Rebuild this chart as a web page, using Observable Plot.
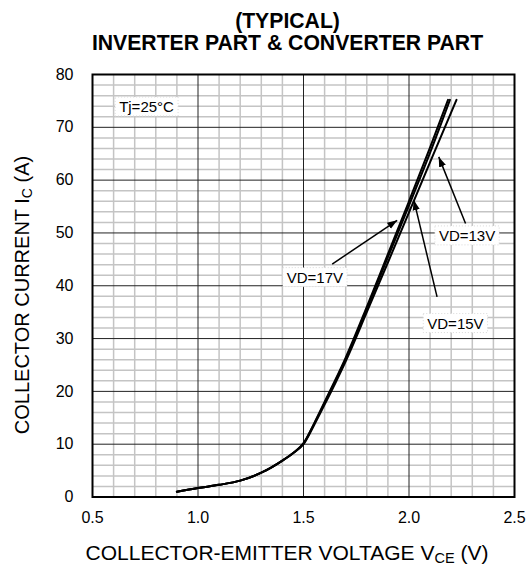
<!DOCTYPE html>
<html><head><meta charset="utf-8">
<script src="https://cdn.jsdelivr.net/npm/d3@7"></script>
<script src="https://cdn.jsdelivr.net/npm/@observablehq/plot@0.6"></script>
<style>body{margin:0;background:#fff} #chart{width:528px;height:586px}</style>
</head><body><div id="chart"></div>
<script>
const titleLines = ["(TYPICAL)", "INVERTER PART & CONVERTER PART"];
const xLabelMain = "COLLECTOR-EMITTER VOLTAGE V", xLabelSub = "CE", xLabelEnd = " (V)";
const yLabelMain = "COLLECTOR CURRENT I", yLabelSub = "C", yLabelEnd = " (A)";
const xTicks = [0.5, 1.0, 1.5, 2.0, 2.5];
const yTicks = [0, 10, 20, 30, 40, 50, 60, 70, 80];
const xMinor = [0.6,0.7,0.8,0.9,1.1,1.2,1.3,1.4,1.6,1.7,1.8,1.9,2.1,2.2,2.3,2.4];
const yMinor = [2,4,6,8,12,14,16,18,22,24,26,28,32,34,36,38,42,44,46,48,52,54,56,58,62,64,66,68,72,74,76,78];

const seriesNames = ["VD=17V", "VD=15V", "VD=13V"];
const vce17 = [0.9,1.0,1.1,1.2,1.3,1.4,1.45,1.5,1.55,1.6,1.65,1.7,1.8,1.9,2.0,2.1,2.185];
const ic17  = [1.0,1.7,2.3,3.1,4.6,6.9,8.3,10.2,13.9,18.0,22.1,26.4,36.0,46.0,56.0,66.2,75.2];
const vce15 = [0.9,1.0,1.1,1.2,1.3,1.4,1.45,1.5,1.55,1.6,1.65,1.7,1.8,1.9,2.0,2.1,2.194];
const ic15  = [1.0,1.7,2.3,3.1,4.6,6.9,8.3,10.1,13.8,17.8,21.9,26.1,35.6,45.4,55.2,65.2,75.2];
const vce13 = [0.9,1.0,1.1,1.2,1.3,1.4,1.45,1.5,1.55,1.6,1.65,1.7,1.8,1.9,2.0,2.1,2.225];
const ic13  = [1.0,1.7,2.3,3.1,4.6,6.9,8.3,10.0,13.6,17.5,21.5,25.7,35.0,44.4,53.9,63.4,75.2];

const labelText = ["Tj=25°C", "VD=17V", "VD=15V", "VD=13V"];
const labelX = [0.756, 1.554, 2.220, 2.275];
const labelY = [73.8, 41.5, 32.8, 49.4];
const arrowFromX = [1.636, 2.133, 2.268];
const arrowFromY = [44.1, 37.9, 51.8];
const arrowToX = [1.944, 2.023, 2.141];
const arrowToY = [52.4, 56.2, 64.4];

const curves = [];
[[vce17, ic17], [vce15, ic15], [vce13, ic13]].forEach(([vs, is], k) => {
  vs.forEach((v, i) => curves.push({series: seriesNames[k], v, i: is[i]}));
});
const labels = labelText.map((t, k) => ({t, x: labelX[k], y: labelY[k]}));
const arrows = arrowFromX.map((d, k) => ({x1: d, y1: arrowFromY[k], x2: arrowToX[k], y2: arrowToY[k]}));

const FONT = "'Liberation Sans', Arial, Helvetica, sans-serif";
const plot = Plot.plot({
  width: 528, height: 586,
  marginTop: 74, marginLeft: 92, marginRight: 14, marginBottom: 89.5,
  style: {fontFamily: FONT, fontSize: "16px", color: "black", background: "white"},
  x: {domain: [0.5, 2.5], ticks: xTicks, tickFormat: d => d.toFixed(1), tickSize: 0, tickPadding: 15, label: null},
  y: {domain: [0, 80], ticks: yTicks, tickSize: 0, tickPadding: 19, label: null},
  marks: [
    Plot.ruleX(xMinor, {stroke: "#c4c4c4", strokeWidth: 1.5}),
    Plot.ruleY(yMinor, {stroke: "#c4c4c4", strokeWidth: 1.5}),
    Plot.ruleX(xTicks, {stroke: "#222", strokeWidth: 1}),
    Plot.ruleY(yTicks, {stroke: "#222", strokeWidth: 1}),
    Plot.line(curves, {x: "v", y: "i", z: "series", stroke: "black", strokeWidth: 2, curve: "monotone-x"}),
    Plot.link(arrows, {x1: "x1", y1: "y1", x2: "x2", y2: "y2", stroke: "black", strokeWidth: 1.5, ariaLabel: "arrows"}),
    Plot.text(labels, {x: "x", y: "y", text: "t", fontSize: 15, fill: "black", ariaLabel: "labels"}),
    Plot.frame({stroke: "black", strokeWidth: 2})
  ]
});
document.getElementById("chart").appendChild(plot);

const svg = d3.select(plot);
// arrowhead marker
const defs = svg.insert("defs", ":first-child");
defs.append("marker").attr("id", "ah").attr("markerUnits", "userSpaceOnUse")
  .attr("viewBox", "-10 -5 11 10").attr("refX", 0).attr("refY", 0)
  .attr("markerWidth", 11).attr("markerHeight", 10).attr("orient", "auto")
  .append("path").attr("d", "M0,0L-10,-3.6L-10,3.6Z").attr("fill", "black");
svg.selectAll('g[aria-label="link"] path, g[aria-label="arrows"] path, path[aria-label="arrows"], line[aria-label="arrows"]')
  .attr("marker-end", "url(#ah)");

// white boxes behind labels
svg.selectAll("text").filter(function() { return labelText.includes(this.textContent); }).each(function() {
  const b = this.getBBox();
  const r = document.createElementNS("http://www.w3.org/2000/svg", "rect");
  r.setAttribute("x", b.x - 4); r.setAttribute("y", b.y - 1);
  r.setAttribute("width", b.width + 8); r.setAttribute("height", b.height + 2);
  r.setAttribute("fill", "white"); r.setAttribute("stroke", "#d8d8d8");
  r.setAttribute("stroke-width", 1); r.setAttribute("stroke-dasharray", "1,2");
  const tr = this.getAttribute("transform"); if (tr) r.setAttribute("transform", tr);
  this.parentNode.insertBefore(r, this);
});

// titles
const tg = svg.append("g").attr("font-family", FONT).attr("fill", "black");
tg.append("text").attr("x", 287.5).attr("y", 28).attr("text-anchor", "middle")
  .attr("font-weight", "bold").attr("font-size", 21.2).text(titleLines[0]);
tg.append("text").attr("x", 287.5).attr("y", 50).attr("text-anchor", "middle")
  .attr("font-weight", "bold").attr("font-size", 21.2).text(titleLines[1]);
// x label
const xl = tg.append("text").attr("x", 287).attr("y", 560).attr("text-anchor", "middle").attr("font-size", 21);
xl.append("tspan").text(xLabelMain);
xl.append("tspan").attr("font-size", 14.5).attr("dy", 3).text(xLabelSub);
xl.append("tspan").attr("dy", -3).text(xLabelEnd);
// y label
const yl = tg.append("text").attr("transform", "translate(29,295) rotate(-90)").attr("text-anchor", "middle").attr("font-size", 20);
yl.append("tspan").text(yLabelMain);
yl.append("tspan").attr("font-size", 14).attr("dy", 3).text(yLabelSub);
yl.append("tspan").attr("dy", -3).text(yLabelEnd);
</script>
</body></html>
